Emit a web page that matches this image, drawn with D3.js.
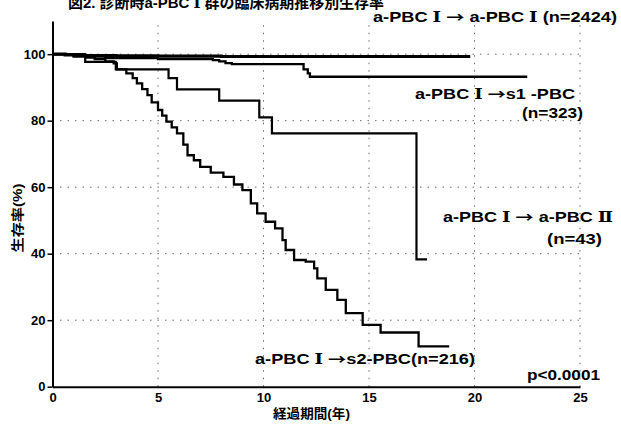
<!DOCTYPE html>
<html>
<head>
<meta charset="utf-8">
<script src="https://cdn.jsdelivr.net/npm/d3@7"></script>
<style>
  body { margin: 0; background: #fff; }
  svg text { font-family: "Liberation Sans", Arial, "Noto Sans CJK JP", sans-serif; font-weight: bold; fill: #000; }
</style>
</head>
<body>
<svg id="km-chart" width="621" height="426"></svg>
<script>
// Survival data (years, survival %)
const aaTime = [0, 0.6, 1.5, 3, 5, 8, 19.8];
const aaSurv = [100, 99.8, 99.6, 99.5, 99.4, 99.3, 99.3];

const s1Time = [0, 1, 2.5, 5, 7.6, 7.9, 8.2, 8.5, 11.9, 12.1, 12.2, 22.5];
const s1Surv = [100, 99.3, 98.8, 98.5, 98.2, 97.8, 97.3, 97.0, 95.4, 94.2, 93.2, 93.2];

const a2Time = [0, 1.55, 3.0, 5.5, 5.9, 7.9, 9.8, 10.4, 17.25, 17.75];
const a2Surv = [100, 97.7, 95.4, 92.8, 89.4, 86.0, 81.0, 76.2, 38.3, 38.3];

const s2Time = [0, 1.0, 1.6, 2.0, 2.5, 2.9, 3.05, 3.5, 3.8, 4.0, 4.25, 4.5, 4.7, 5.0, 5.2, 5.4, 5.65, 5.9,
  6.2, 6.4, 6.7, 7.0, 7.5, 8.1, 8.6, 9.0, 9.4, 9.7, 10.1, 10.55, 10.9, 11.05, 11.45, 12.0, 12.4,
  12.55, 12.95, 13.5, 13.9, 14.7, 15.55, 17.35, 18.8];
const s2Surv = [100, 99.5, 99.0, 98.5, 97.8, 97.2, 95.4, 94.2, 92.8, 91.2, 89.5, 87.7, 85.5, 83.2, 81.5, 79.7, 78.0, 76.2,
  72.8, 69.6, 68.1, 66.1, 64.4, 63.1, 60.8, 59.1, 55.1, 52.1, 49.6, 47.6, 44.1, 41.1, 38.1, 37.6, 35.6,
  32.6, 29.1, 26.1, 22.1, 18.6, 16.3, 12.1, 12.1];

const xTicks = [0, 5, 10, 15, 20, 25];
const yTicks = [0, 20, 40, 60, 80, 100];

const svg = d3.select("#km-chart");

const x = d3.scaleLinear().domain([0, 25]).range([52.5, 580]);
const y = d3.scaleLinear().domain([0, 110]).range([386.7, 20.9]);

// dotted grid, like the scan
const grid = svg.append("g").attr("stroke", "#6a6a6a").attr("stroke-width", 1)
  .attr("stroke-dasharray", "1.5,6");
grid.selectAll("line.h").data(yTicks.slice(1)).enter().append("line")
  .attr("x1", x(0)).attr("x2", x(25))
  .attr("y1", d => y(d)).attr("y2", d => y(d));
grid.selectAll("line.v").data(xTicks.slice(1)).enter().append("line")
  .attr("x1", d => x(d)).attr("x2", d => x(d))
  .attr("y1", y(0)).attr("y2", y(110));

// axes
const yAxis = svg.append("g")
  .attr("transform", `translate(${x(0)},0)`)
  .call(d3.axisLeft(y).tickValues(yTicks).tickSize(5).tickSizeOuter(0).tickPadding(2));
const xAxis = svg.append("g")
  .attr("transform", `translate(0,${y(0)})`)
  .call(d3.axisBottom(x).tickValues(xTicks).tickSize(0).tickSizeOuter(0).tickPadding(6));

[yAxis, xAxis].forEach(a => {
  a.select(".domain").attr("stroke", "#000").attr("stroke-width", 2);
  a.selectAll(".tick line").attr("stroke", "#000").attr("stroke-width", 1.5);
  a.selectAll(".tick text").style("font-size", "13px").attr("fill", "#000");
});

// survival curves
const line = d3.line()
  .x(d => x(d[0]))
  .y(d => y(d[1]))
  .curve(d3.curveStepAfter);

const curves = [
  { t: s2Time, s: s2Surv, w: 2.3 },
  { t: a2Time, s: a2Surv, w: 2.2 },
  { t: s1Time, s: s1Surv, w: 2.3 },
  { t: aaTime, s: aaSurv, w: 3.2 }
];

svg.selectAll("path.curve")
  .data(curves)
  .enter()
  .append("path")
  .attr("class", "curve")
  .attr("d", c => line(c.t.map((t, i) => [t, c.s[i]])))
  .attr("fill", "none")
  .attr("stroke", "#000")
  .attr("stroke-width", c => c.w);

// text
const labels = [
  { text: "図2. 診断時a-PBC Ⅰ 群の臨床病期推移別生存率", x: 68, y: 8, size: 15, len: 316 },
  { text: "a-PBC Ⅰ → a-PBC Ⅰ  (n=2424)", x: 373, y: 22, size: 14, len: 244 },
  { text: "a-PBC Ⅰ  →s1 -PBC", x: 415, y: 99, size: 14, len: 160 },
  { text: "(n=323)", x: 522, y: 118, size: 14, len: 61 },
  { text: "a-PBC Ⅰ  → a-PBC Ⅱ", x: 443, y: 222, size: 14, len: 170 },
  { text: "(n=43)", x: 547, y: 244, size: 14, len: 55 },
  { text: "a-PBC Ⅰ  →s2-PBC(n=216)", x: 255, y: 364, size: 14, len: 220 },
  { text: "p<0.0001", x: 527, y: 380, size: 14, len: 73 },
  { text: "経過期間(年)", x: 273, y: 418, size: 13, len: 77 }
];

const label = svg.selectAll("text.label")
  .data(labels)
  .enter()
  .append("text")
  .attr("class", "label")
  .attr("x", d => d.x)
  .attr("y", d => d.y)
  .attr("textLength", d => d.len)
  .attr("lengthAdjust", "spacingAndGlyphs")
  .style("font-size", d => d.size + "px");

// roman numerals and arrows come from other fonts in the scan
label.each(function(d) {
  const el = d3.select(this);
  d.text.split(/([ⅠⅡ→])/).filter(p => p !== "").forEach(p => {
    const ts = el.append("tspan").text(p);
    if (p === "Ⅰ" || p === "Ⅱ") ts.style("font-family", "'DejaVu Serif', serif");
    if (p === "→") ts.style("font-family", "'Noto Sans CJK JP'");
  });
});

svg.append("text")
  .attr("transform", "translate(22,218) rotate(-90)")
  .attr("text-anchor", "middle")
  .attr("textLength", 69)
  .attr("lengthAdjust", "spacingAndGlyphs")
  .style("font-size", "13px")
  .text("生存率(%)");
</script>
</body>
</html>
